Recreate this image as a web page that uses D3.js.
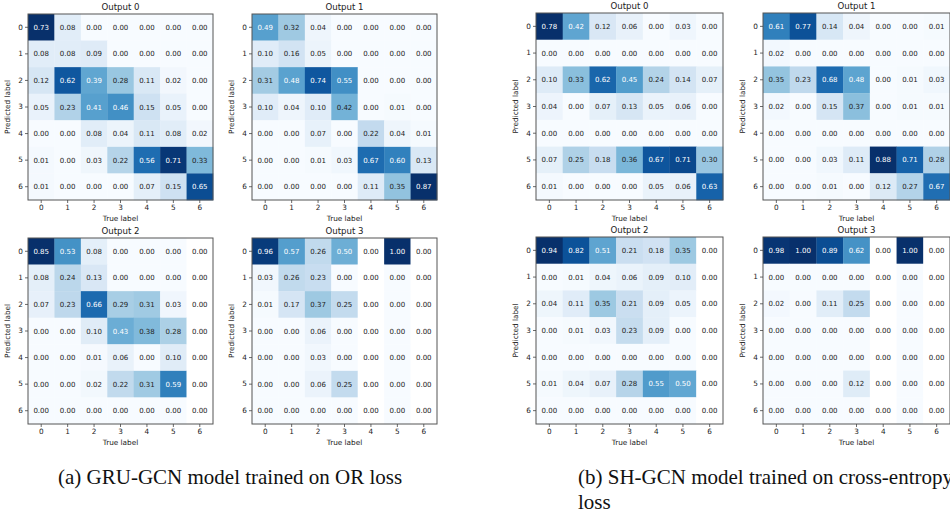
<!DOCTYPE html>
<html lang="en">
<head>
<meta charset="UTF-8">
<title>Confusion matrices</title>
<script src="https://d3js.org/d3.v7.min.js"></script>
<style>
  body { margin: 0; background: #fff; }
  svg { display: block; }
  .tick text { font-family: "DejaVu Sans", sans-serif; font-size: 7.3px; fill: #222; }
  .tick line { stroke: #444; stroke-width: 0.8; }
  .cell-text { font-family: "DejaVu Sans", sans-serif; font-size: 7px; }
  .title { font-family: "DejaVu Sans", sans-serif; font-size: 8.6px; fill: #222; }
  .axis-label { font-family: "DejaVu Sans", sans-serif; font-size: 7.3px; fill: #222; }
  .caption { font-family: "Liberation Serif", "Times New Roman", serif; font-size: 21px; fill: #111; }
</style>
</head>
<body>
<svg id="chart" width="950" height="514"></svg>
<script>
// class labels (true on x, predicted on y)
const labels = [0, 1, 2, 3, 4, 5, 6];
const titles = ["Output 0", "Output 1", "Output 2", "Output 3"];
const captions = [
  ["(a) GRU-GCN model trained on OR loss"],
  ["(b) SH-GCN model trained on cross-entropy", "loss"]
];

// rows = predicted label, columns = true label
const gruOut0 = [
  [0.73, 0.08, 0.00, 0.00, 0.00, 0.00, 0.00],
  [0.08, 0.08, 0.09, 0.00, 0.00, 0.00, 0.00],
  [0.12, 0.62, 0.39, 0.28, 0.11, 0.02, 0.00],
  [0.05, 0.23, 0.41, 0.46, 0.15, 0.05, 0.00],
  [0.00, 0.00, 0.08, 0.04, 0.11, 0.08, 0.02],
  [0.01, 0.00, 0.03, 0.22, 0.56, 0.71, 0.33],
  [0.01, 0.00, 0.00, 0.00, 0.07, 0.15, 0.65]
];
const gruOut1 = [
  [0.49, 0.32, 0.04, 0.00, 0.00, 0.00, 0.00],
  [0.10, 0.16, 0.05, 0.00, 0.00, 0.00, 0.00],
  [0.31, 0.48, 0.74, 0.55, 0.00, 0.00, 0.00],
  [0.10, 0.04, 0.10, 0.42, 0.00, 0.01, 0.00],
  [0.00, 0.00, 0.07, 0.00, 0.22, 0.04, 0.01],
  [0.00, 0.00, 0.01, 0.03, 0.67, 0.60, 0.13],
  [0.00, 0.00, 0.00, 0.00, 0.11, 0.35, 0.87]
];
const gruOut2 = [
  [0.85, 0.53, 0.08, 0.00, 0.00, 0.00, 0.00],
  [0.08, 0.24, 0.13, 0.00, 0.00, 0.00, 0.00],
  [0.07, 0.23, 0.66, 0.29, 0.31, 0.03, 0.00],
  [0.00, 0.00, 0.10, 0.43, 0.38, 0.28, 0.00],
  [0.00, 0.00, 0.01, 0.06, 0.00, 0.10, 0.00],
  [0.00, 0.00, 0.02, 0.22, 0.31, 0.59, 0.00],
  [0.00, 0.00, 0.00, 0.00, 0.00, 0.00, 0.00]
];
const gruOut3 = [
  [0.96, 0.57, 0.26, 0.50, 0.00, 1.00, 0.00],
  [0.03, 0.26, 0.23, 0.00, 0.00, 0.00, 0.00],
  [0.01, 0.17, 0.37, 0.25, 0.00, 0.00, 0.00],
  [0.00, 0.00, 0.06, 0.00, 0.00, 0.00, 0.00],
  [0.00, 0.00, 0.03, 0.00, 0.00, 0.00, 0.00],
  [0.00, 0.00, 0.06, 0.25, 0.00, 0.00, 0.00],
  [0.00, 0.00, 0.00, 0.00, 0.00, 0.00, 0.00]
];
const shOut0 = [
  [0.78, 0.42, 0.12, 0.06, 0.00, 0.03, 0.00],
  [0.00, 0.00, 0.00, 0.00, 0.00, 0.00, 0.00],
  [0.10, 0.33, 0.62, 0.45, 0.24, 0.14, 0.07],
  [0.04, 0.00, 0.07, 0.13, 0.05, 0.06, 0.00],
  [0.00, 0.00, 0.00, 0.00, 0.00, 0.00, 0.00],
  [0.07, 0.25, 0.18, 0.36, 0.67, 0.71, 0.30],
  [0.01, 0.00, 0.00, 0.00, 0.05, 0.06, 0.63]
];
const shOut1 = [
  [0.61, 0.77, 0.14, 0.04, 0.00, 0.00, 0.01],
  [0.02, 0.00, 0.00, 0.00, 0.00, 0.00, 0.00],
  [0.35, 0.23, 0.68, 0.48, 0.00, 0.01, 0.03],
  [0.02, 0.00, 0.15, 0.37, 0.00, 0.01, 0.01],
  [0.00, 0.00, 0.00, 0.00, 0.00, 0.00, 0.00],
  [0.00, 0.00, 0.03, 0.11, 0.88, 0.71, 0.28],
  [0.00, 0.00, 0.01, 0.00, 0.12, 0.27, 0.67]
];
const shOut2 = [
  [0.94, 0.82, 0.51, 0.21, 0.18, 0.35, 0.00],
  [0.00, 0.01, 0.04, 0.06, 0.09, 0.10, 0.00],
  [0.04, 0.11, 0.35, 0.21, 0.09, 0.05, 0.00],
  [0.00, 0.01, 0.03, 0.23, 0.09, 0.00, 0.00],
  [0.00, 0.00, 0.00, 0.00, 0.00, 0.00, 0.00],
  [0.01, 0.04, 0.07, 0.28, 0.55, 0.50, 0.00],
  [0.00, 0.00, 0.00, 0.00, 0.00, 0.00, 0.00]
];
const shOut3 = [
  [0.98, 1.00, 0.89, 0.62, 0.00, 1.00, 0.00],
  [0.00, 0.00, 0.00, 0.00, 0.00, 0.00, 0.00],
  [0.02, 0.00, 0.11, 0.25, 0.00, 0.00, 0.00],
  [0.00, 0.00, 0.00, 0.00, 0.00, 0.00, 0.00],
  [0.00, 0.00, 0.00, 0.00, 0.00, 0.00, 0.00],
  [0.00, 0.00, 0.00, 0.12, 0.00, 0.00, 0.00],
  [0.00, 0.00, 0.00, 0.00, 0.00, 0.00, 0.00]
];

const svg = d3.select("#chart");

// panel boxes, one group of four per model
const groups = [
  { mats: [gruOut0, gruOut1, gruOut2, gruOut3], xs: [28, 252], ys: [14, 238], w: 185, h: 186, titleDy: -4 },
  { mats: [shOut0, shOut1, shOut2, shOut3], xs: [536, 763], ys: [13, 237], w: 187, h: 187, titleDy: -4 }
];

function drawMatrix(mat, title, x0, y0, w, h, titleDy) {
  const x = d3.scaleBand().domain(labels).range([x0, x0 + w]);
  const y = d3.scaleBand().domain(labels).range([y0, y0 + h]);
  const vmax = d3.max(mat.flat());
  const color = d3.scaleSequential(d3.interpolateBlues).domain([0, vmax]);
  // columns with no true samples were NaN in the original -> left blank
  const colSum = labels.map(j => d3.sum(mat, r => r[j]));

  const cells = [];
  mat.forEach((row, i) => row.forEach((v, j) => cells.push({ i, j, v })));

  const g = svg.append("g");
  g.selectAll("rect.cell")
    .data(cells)
    .join("rect")
    .attr("class", "cell")
    .attr("x", d => x(d.j))
    .attr("y", d => y(d.i))
    .attr("width", x.bandwidth() + 0.3)
    .attr("height", y.bandwidth() + 0.3)
    .attr("fill", d => colSum[d.j] === 0 ? "#ffffff" : color(d.v));

  g.selectAll("text.cell-text")
    .data(cells)
    .join("text")
    .attr("class", "cell-text")
    .attr("x", d => x(d.j) + x.bandwidth() / 2)
    .attr("y", d => y(d.i) + y.bandwidth() / 2)
    .attr("dy", "0.36em")
    .attr("text-anchor", "middle")
    .attr("fill", d => d.v >= vmax / 2 ? "#ffffff" : "#222")
    .text(d => d.v.toFixed(2));

  g.append("rect")
    .attr("x", x0).attr("y", y0)
    .attr("width", w).attr("height", h)
    .attr("fill", "none")
    .attr("stroke", "#555")
    .attr("stroke-width", 1);

  const ax = g.append("g")
    .attr("transform", `translate(0,${y0 + h})`)
    .call(d3.axisBottom(x).tickSize(3).tickPadding(2));
  ax.select(".domain").remove();

  const ay = g.append("g")
    .attr("transform", `translate(${x0},0)`)
    .call(d3.axisLeft(y).tickSize(3).tickPadding(2));
  ay.select(".domain").remove();

  g.append("text")
    .attr("class", "title")
    .attr("x", x0 + w / 2)
    .attr("y", y0 + titleDy)
    .attr("text-anchor", "middle")
    .text(title);

  g.append("text")
    .attr("class", "axis-label")
    .attr("x", x0 + w / 2)
    .attr("y", y0 + h + 21)
    .attr("text-anchor", "middle")
    .text("True label");

  g.append("text")
    .attr("class", "axis-label")
    .attr("transform", `translate(${x0 - 18},${y0 + h / 2}) rotate(-90)`)
    .attr("text-anchor", "middle")
    .text("Predicted label");
}

groups.forEach(gr => {
  gr.mats.forEach((m, k) => {
    drawMatrix(m, titles[k], gr.xs[k % 2], gr.ys[Math.floor(k / 2)], gr.w, gr.h, gr.titleDy);
  });
});

// sub-figure captions
const capPos = [[58, 484], [578, 484]];
captions.forEach((lines, k) => {
  const t = svg.append("text")
    .attr("class", "caption")
    .attr("x", capPos[k][0])
    .attr("y", capPos[k][1]);
  lines.forEach((line, n) => {
    t.append("tspan")
      .attr("x", capPos[k][0])
      .attr("dy", n === 0 ? 0 : 25)
      .text(line);
  });
});
</script>
</body>
</html>
